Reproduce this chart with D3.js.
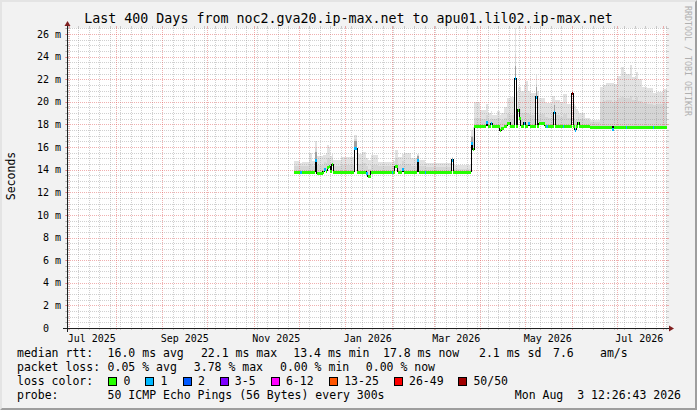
<!DOCTYPE html>
<html>
<head>
<meta charset="utf-8">
<script src="https://cdn.jsdelivr.net/npm/d3@7/dist/d3.min.js"></script>
<style>
html,body{margin:0;padding:0;background:#f2f2f2;}
svg{display:block;}
text{font-family:"DejaVu Sans Mono",monospace;fill:#000;white-space:pre;}
</style>
</head>
<body>
<svg id="chart" width="697" height="410"></svg>
<script>
// ---------- text ----------
const titleText = "Last 400 Days from noc2.gva20.ip-max.net to apu01.lil02.ip-max.net";
const yAxisTitle = "Seconds";
const watermarkText = "RRDTOOL / TOBI OETIKER";
const yTickValues = [0, 2, 4, 6, 8, 10, 12, 14, 16, 18, 20, 22, 24, 26];
const yTickLabels = ["0  ", "2 m", "4 m", "6 m", "8 m", "10 m", "12 m", "14 m", "16 m", "18 m", "20 m", "22 m", "24 m", "26 m"];
const xLabelMonths = ["2025-07-01", "2025-09-01", "2025-11-01", "2026-01-01", "2026-03-01", "2026-05-01", "2026-07-01"];
const rttLegend = ["median rtt:", "16.0 ms avg", "22.1 ms max", "13.4 ms min", "17.8 ms now", "2.1 ms sd", "7.6", "am/s"];
const lossLegend = ["packet loss:", "0.05 % avg", "3.78 % max", "0.00 % min", "0.00 % now"];
const lossColorTitle = "loss color:";
const lossLabels = ["0", "1", "2", "3-5", "6-12", "13-25", "26-49", "50/50"];
const lossColors = ["#26ff00", "#00b8ff", "#0059ff", "#7e00ff", "#ff00ff", "#ff5500", "#ff0000", "#a10000"];
const probeTitle = "probe:";
const probeText = "50 ICMP Echo Pings (56 Bytes) every 300s";
const stampText = "Mon Aug  3 12:26:43 2026";

// ---------- data (start of each step) ----------
const sampleDates = [
  "2025-11-28","2025-12-02","2025-12-03","2025-12-08","2025-12-10","2025-12-12","2025-12-13","2025-12-17","2025-12-18","2025-12-19",
  "2025-12-20","2025-12-21","2025-12-22","2025-12-23","2025-12-24","2025-12-29","2026-01-07","2026-01-09","2026-01-12","2026-01-15",
  "2026-01-16","2026-01-18","2026-01-23","2026-02-01","2026-02-02","2026-02-03","2026-02-05","2026-02-08","2026-02-09","2026-02-14",
  "2026-02-18","2026-02-19","2026-02-23","2026-02-24","2026-03-13","2026-03-14","2026-03-26","2026-03-27","2026-03-28","2026-04-01",
  "2026-04-05","2026-04-06","2026-04-08","2026-04-09","2026-04-12","2026-04-14","2026-04-15","2026-04-17","2026-04-19","2026-04-21",
  "2026-04-24","2026-04-25","2026-04-26","2026-04-27","2026-04-28","2026-04-30","2026-05-01","2026-05-03","2026-05-04","2026-05-08",
  "2026-05-09","2026-05-10","2026-05-14","2026-05-15","2026-05-16","2026-05-19","2026-05-20","2026-05-21","2026-05-24","2026-05-26",
  "2026-05-27","2026-05-29","2026-06-01","2026-06-02","2026-06-03","2026-06-04","2026-06-05","2026-06-06","2026-06-10","2026-06-13",
  "2026-06-20","2026-06-22","2026-06-24","2026-06-28","2026-06-29","2026-07-01","2026-07-04","2026-07-06","2026-07-07","2026-07-08",
  "2026-07-10","2026-07-11","2026-07-14","2026-07-15","2026-07-18","2026-07-21","2026-07-25","2026-07-26","2026-07-28","2026-08-01"
];
const medianMs = [
  13.8,13.8,13.8,13.8,13.8,14.9,13.7,13.8,14.1,13.9,
  14.2,14.3,13.9,14.5,13.8,13.8,15.9,13.8,13.8,13.7,
  13.4,13.8,13.8,13.8,13.8,14.3,13.8,14.1,13.8,13.8,
  14.9,13.8,13.8,13.8,14.9,13.8,16.4,15.8,17.9,17.9,
  18.2,17.9,18.1,17.9,17.9,17.5,17.7,17.9,18.15,17.9,
  22.1,17.9,19.3,18.6,17.9,18.15,17.9,18.1,17.9,20.45,
  17.9,18.1,17.9,17.9,17.9,17.9,19.1,17.9,17.9,17.9,
  17.9,17.9,20.75,17.9,17.55,17.9,18.15,17.9,17.9,17.8,
  17.8,17.8,17.8,17.6,17.8,17.8,17.8,17.8,17.8,17.8,
  17.8,17.8,17.8,17.8,17.8,17.8,17.8,17.8,17.8,17.8
];
const lossClass = [
  0,1,0,0,0,1,0,0,1,0,
  0,0,0,0,0,0,1,0,0,1,
  0,0,0,1,0,0,0,1,0,0,
  1,0,1,0,1,0,1,0,0,0,
  1,0,1,0,0,0,0,0,0,0,
  1,0,0,0,0,1,0,1,0,1,
  0,0,0,1,0,0,1,0,0,1,
  0,0,7,0,1,0,0,0,0,0,
  0,0,0,1,0,0,0,0,1,0,
  0,0,0,0,0,0,1,0,0,0
];
// darkest smoke band just above the median (spikes)
const smokeCoreMs = [
  13.8,13.8,13.8,13.8,13.8,15.6,13.7,13.8,14.1,13.9,
  14.2,14.3,13.9,14.5,13.8,13.8,16.5,13.8,13.8,13.7,
  13.4,13.8,13.8,13.8,13.8,14.3,13.8,14.1,13.8,13.8,
  15.2,13.8,13.8,13.8,15.0,13.8,16.9,15.8,17.9,17.9,
  18.2,17.9,18.1,17.9,17.9,17.5,17.7,17.9,18.15,17.9,
  23.2,17.9,19.3,18.6,17.9,18.15,17.9,18.1,17.9,21.3,
  17.9,18.1,17.9,17.9,17.9,17.9,19.7,17.9,17.9,17.9,
  17.9,17.9,20.9,17.9,17.55,17.9,18.15,17.9,17.9,17.8,
  17.8,17.8,17.8,17.6,17.8,17.8,17.8,17.8,17.8,17.8,
  17.8,17.8,17.8,17.8,17.8,17.8,17.8,17.8,17.8,17.8
];
const smokeMidMs = [
  14.3,14.3,14.3,14.5,14.3,15.9,14.4,14.4,14.7,14.6,
  15.0,15.0,14.6,15.0,14.3,14.4,16.7,14.5,14.6,14.3,
  14.1,14.4,14.3,14.3,14.3,15.0,14.4,14.8,14.5,14.3,
  15.3,14.3,14.2,14.2,15.0,14.1,17.0,16.8,18.6,18.5,
  18.8,18.4,18.6,18.5,18.6,18.2,18.4,18.6,18.9,18.8,
  24.2,19.0,20.0,19.4,19.0,19.0,19.0,18.9,18.8,21.6,
  18.8,18.9,18.7,18.7,18.6,18.8,19.9,18.8,18.7,18.9,
  18.9,18.6,20.95,18.6,18.4,18.5,18.7,18.5,18.4,18.2,
  20.0,20.1,20.2,20.0,20.1,20.3,20.4,20.3,20.3,20.3,
  20.5,20.2,20.4,20.1,19.9,19.8,19.7,19.7,19.8,19.9
];
const smokeTopMs = [
  14.8,14.6,14.7,15.5,14.8,16.5,15.2,15.3,15.3,15.5,
  16.2,16.0,15.2,15.4,14.9,15.1,17.1,15.4,15.6,15.0,
  14.9,15.3,14.7,14.6,14.8,15.7,15.1,15.4,15.5,15.0,
  15.4,14.9,14.6,14.6,15.1,14.4,17.5,17.8,20.0,19.3,
  19.8,19.0,19.2,18.8,19.2,18.8,19.0,19.5,20.3,20.4,
  26.5,21.0,21.3,21.3,21.0,21.5,21.8,21.0,20.8,22.4,
  21.0,20.3,20.0,19.9,19.9,20.5,20.5,20.2,20.0,20.7,
  20.7,19.8,21.0,19.8,19.6,19.4,19.2,19.0,18.6,18.35,
  21.3,21.5,21.7,21.7,21.6,22.3,23.1,22.6,22.5,22.5,
  23.3,22.2,22.6,22.0,21.3,21.2,20.8,20.8,20.9,21.1
];

// ---------- layout ----------
const W = 697, H = 410;
const X0 = 67, X1 = 667, Y0 = 328, Y1 = 28;
const svg = d3.select("#chart");
const parse = d3.timeParse("%Y-%m-%d");
const tEnd = new Date(2026, 7, 3, 12, 26, 43);
const tStart = d3.timeDay.offset(tEnd, -400);
const x = d3.scaleTime().domain([tStart, tEnd]).range([X0, X1]);
const y = d3.scaleLinear().domain([0, 26.53]).range([Y0, Y1]);
const px = v => Math.round(v) + 0.5;

// background + 3d border
svg.append("rect").attr("width", W).attr("height", H).attr("fill", "#f2f2f2");
svg.append("path").attr("d", `M0,${H}L2,${H-2}L2,2L${W-2},2L${W},0L0,0Z`).attr("fill", "#e4e4e4");
svg.append("path").attr("d", `M2,${H-2}L${W-2},${H-2}L${W-2},2L${W},0L${W},${H}L0,${H}Z`).attr("fill", "#9e9e9e");
svg.append("rect").attr("x", X0).attr("y", Y1).attr("width", X1 - X0).attr("height", Y0 - Y1).attr("fill", "#fff");

// ---------- data table ----------
const pts = sampleDates.map((d, i) => ({
  t: parse(d), m: medianMs[i], c: lossClass[i], core: smokeCoreMs[i], mid: smokeMidMs[i], top: smokeTopMs[i]
}));
pts.forEach((p, i) => { p.t2 = i < pts.length - 1 ? pts[i + 1].t : tEnd; });
const ext = pts.concat([Object.assign({}, pts[pts.length - 1], { t: tEnd })]);

// smoke
const gSmoke = svg.append("g").attr("shape-rendering", "crispEdges");
[["top", "#e2e2e2"], ["mid", "#d5d5d5"], ["core", "#a0a0a0"]].forEach(([k, col]) => {
  gSmoke.append("path").datum(ext)
    .attr("d", d3.area().curve(d3.curveStepAfter).x(d => x(d.t)).y0(d => y(d.m)).y1(d => y(d[k])))
    .attr("fill", col);
});

// ---------- grid ----------
const gGrid = svg.append("g").attr("shape-rendering", "crispEdges");
const gridCol = "rgba(143,143,143,0.42)", mgridCol = "rgba(222,80,80,0.45)";
function hLine(v, col) {
  const yy = px(y(v));
  gGrid.append("line").attr("x1", X0 - 2).attr("x2", X0).attr("y1", yy).attr("y2", yy).attr("stroke", col);
  gGrid.append("line").attr("x1", X1).attr("x2", X1 + 2).attr("y1", yy).attr("y2", yy).attr("stroke", col);
  gGrid.append("line").attr("x1", X0 - 1).attr("x2", X1 + 1).attr("y1", yy).attr("y2", yy).attr("stroke", col).attr("stroke-dasharray", "1,1");
}
function vLine(t, col) {
  const xx = px(x(t));
  gGrid.append("line").attr("x1", xx).attr("x2", xx).attr("y1", Y0).attr("y2", Y0 + 2).attr("stroke", col);
  gGrid.append("line").attr("x1", xx).attr("x2", xx).attr("y1", Y1 - 2).attr("y2", Y1).attr("stroke", col);
  gGrid.append("line").attr("x1", xx).attr("x2", xx).attr("y1", Y0 + 1).attr("y2", Y1 - 1).attr("stroke", col).attr("stroke-dasharray", "1,1");
}
d3.range(0, 26.6, 0.5).filter(v => v % 2 !== 0).forEach(v => hLine(v, gridCol));
const months = d3.timeMonth.range(tStart, tEnd);
d3.timeMonday.range(tStart, tEnd).filter(t => t.getDate() !== 1).forEach(t => vLine(t, gridCol));
yTickValues.forEach(v => hLine(v, mgridCol));
months.forEach(t => vLine(t, mgridCol));

// ---------- median lines ----------
svg.append("path").datum(ext)
  .attr("d", d3.line().curve(d3.curveStepAfter).x(d => x(d.t)).y(d => y(d.m)))
  .attr("fill", "none").attr("stroke", "#000").attr("stroke-width", 1).attr("shape-rendering", "crispEdges");
// loss-coloured median: horizontal piece per sample
svg.append("g").selectAll("line").data(pts).join("line")
  .attr("x1", d => Math.round(x(d.t))).attr("x2", d => Math.max(Math.round(x(d.t2)), Math.round(x(d.t)) + 1))
  .attr("y1", d => px(y(d.m))).attr("y2", d => px(y(d.m)))
  .attr("stroke", d => lossColors[d.c]).attr("stroke-width", 3)
  .attr("shape-rendering", "crispEdges");

// ---------- axes ----------
const gAxis = svg.append("g").attr("shape-rendering", "crispEdges");
gAxis.append("line").attr("x1", X0 - 4).attr("x2", X1 + 4).attr("y1", Y0 + 0.5).attr("y2", Y0 + 0.5).attr("stroke", "#1f1f1f");
gAxis.append("line").attr("x1", X0 + 0.5).attr("x2", X0 + 0.5).attr("y1", Y0 + 4).attr("y2", Y1 - 4).attr("stroke", "#1f1f1f");
svg.append("path").attr("d", `M${X1 + 2},${Y0 - 2.5}L${X1 + 2},${Y0 + 3.5}L${X1 + 7},${Y0 + 0.5}Z`).attr("fill", "#801f1f");
svg.append("path").attr("d", `M${X0 - 2.5},${Y1 - 2}L${X0 + 3.5},${Y1 - 2}L${X0 + 0.5},${Y1 - 7}Z`).attr("fill", "#801f1f");

// y tick labels
svg.append("g").selectAll("text").data(yTickValues).join("text")
  .attr("x", 61).attr("y", v => y(v) + 3.6)
  .attr("text-anchor", "end").attr("font-size", "10px")
  .text((v, i) => yTickLabels[i]);

// x labels (centered half a month after the month start)
const fmt = d3.timeFormat("%b %Y");
svg.append("g").selectAll("text").data(xLabelMonths.map(parse)).join("text")
  .attr("x", t => x(d3.timeDay.offset(t, 15))).attr("y", 341.5)
  .attr("text-anchor", "middle").attr("font-size", "10px")
  .text(t => fmt(t));

// title
svg.append("text").attr("x", 348.5).attr("y", 22.5).attr("text-anchor", "middle")
  .attr("font-size", "13.3px").text(titleText);
// y axis title
svg.append("text").attr("transform", "translate(14.5,176) rotate(-90)").attr("text-anchor", "middle")
  .attr("font-size", "11.5px").text(yAxisTitle);
// watermark
svg.append("text").attr("transform", "translate(685,6) rotate(90)")
  .attr("font-size", "8.3px").style("fill", "#b0b0b0").text(watermarkText);

// ---------- legend ----------
const lg = svg.append("g").attr("font-size", "11.5px");
const rttX = [17, 107.6, 200.9, 293.3, 383, 479, 553, 600];
rttLegend.forEach((s, i) => lg.append("text").attr("x", rttX[i]).attr("y", 357).text(s));
const lossX = [17, 107.6, 193.8, 280, 365.8];
lossLegend.forEach((s, i) => lg.append("text").attr("x", lossX[i]).attr("y", 371).text(s));
lg.append("text").attr("x", 17).attr("y", 385).text(lossColorTitle);
const boxX = [108.4, 145.3, 182.7, 219.6, 270.7, 329, 393.8, 458.2];
lossLabels.forEach((s, i) => {
  lg.append("rect").attr("x", Math.round(boxX[i]) + 0.5).attr("y", 377.5).attr("width", 8).attr("height", 8)
    .attr("fill", lossColors[i]).attr("stroke", "#000").attr("shape-rendering", "crispEdges");
  lg.append("text").attr("x", boxX[i] + 15.2).attr("y", 385).text(s);
});
lg.append("text").attr("x", 17).attr("y", 399).text(probeTitle);
lg.append("text").attr("x", 107.6).attr("y", 399).text(probeText);
lg.append("text").attr("x", 681).attr("y", 399).attr("text-anchor", "end").text(stampText);
</script>
</body>
</html>
